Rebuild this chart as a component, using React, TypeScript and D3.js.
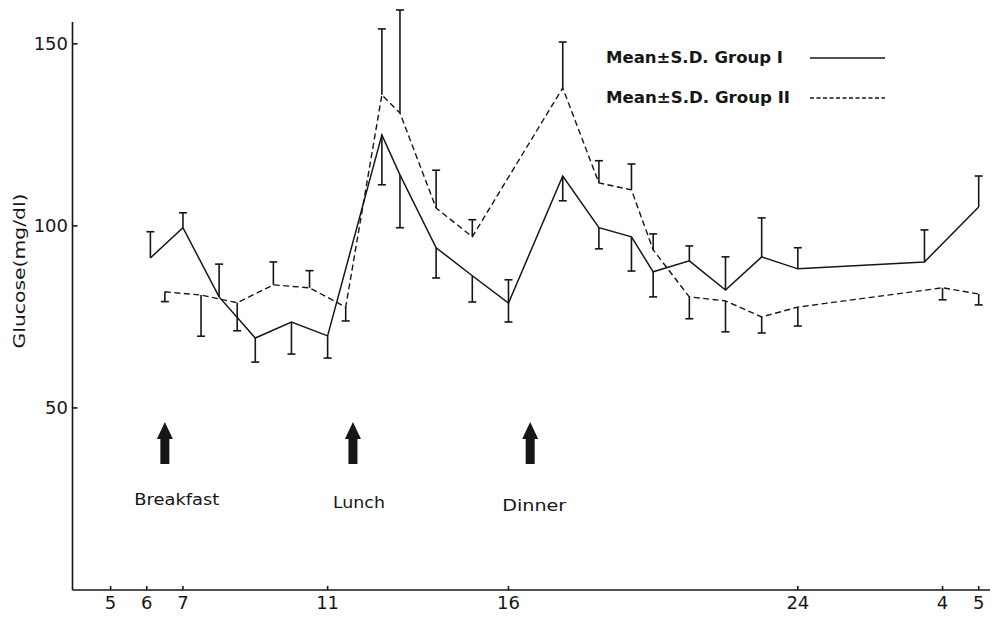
import React from "react";
import * as d3 from "d3";

// ---- Data ----
const groupIHours = [6.1, 7, 8, 9, 10, 11, 12.5, 13, 14, 15, 16, 17.5, 18.5, 19.4, 20, 21, 22, 23, 24, 27.5, 29];
const groupIMean = [91.2, 99.5, 80.5, 69.2, 73.6, 69.8, 125, 114, 94, 86.3, 78.8, 113.7, 99.5, 97, 87.4, 90.4, 82.4, 91.5, 88.2, 90.1, 105.2];
const groupIErrUp = [7.2, 4.1, 9.0, 0, 0, 0, 0, 0, 0, 0, 6.4, 0, 0, 0, 0, 4.1, 9.1, 10.7, 5.8, 8.8, 8.5];
const groupIErrDown = [0, 0, 0, 6.6, 8.8, 6.1, 13.7, 14.5, 8.3, 7.2, 5.2, 6.8, 5.8, 9.4, 6.9, 0, 0, 0, 0, 0, 0];

const groupIIHours = [6.5, 7.5, 8.5, 9.5, 10.5, 11.5, 12.5, 13, 14, 15, 17.5, 18.5, 19.4, 20, 21, 22, 23, 24, 28, 29];
const groupIIMean = [81.9, 81.0, 78.9, 83.8, 83.0, 77.7, 136, 131, 104.9, 97, 137.9, 111.8, 109.9, 93.4, 80.5, 79.4, 75, 77.7, 83, 81.3];
const groupIIErrUp = [0, 0, 0, 6.3, 4.7, 0, 18.1, 28.3, 10.4, 4.7, 12.6, 6.1, 7.1, 4.4, 0, 0, 0, 0, 0, 0];
const groupIIErrDown = [2.7, 11.3, 7.7, 0, 0, 3.8, 0, 0, 0, 0, 0, 0, 0, 0, 6, 8.5, 4.4, 5.2, 3.3, 3.0];

const xTickHours = [5, 6, 7, 11, 16, 24, 28, 29];
const xTickLabels = ["5", "6", "7", "11", "16", "24", "4", "5"];
const yTickValues = [50, 100, 150];

const mealHours = [6.5, 11.7, 16.6];
const mealLabels = ["Breakfast", "Lunch", "Dinner"];

const legendLabels = ["Mean\u00b1S.D. Group I", "Mean\u00b1S.D. Group II"];

// ---- Chart ----
const W = 997;
const H = 623;
const INK = "#161616";
const FONT = "'DejaVu Sans', 'Liberation Sans', sans-serif";

const x = d3.scaleLinear().domain([5, 29]).range([110.6, 978.7]);
const y = d3.scaleLinear().domain([0, 156]).range([590, 22]);

type Pt = { h: number; m: number; up: number; dn: number };

function makePts(h: number[], m: number[], up: number[], dn: number[]): Pt[] {
  return h.map((hv, i) => ({ h: hv, m: m[i], up: up[i], dn: dn[i] }));
}

const g1 = makePts(groupIHours, groupIMean, groupIErrUp, groupIErrDown);
const g2 = makePts(groupIIHours, groupIIMean, groupIIErrUp, groupIIErrDown);

const line = d3
  .line<Pt>()
  .x((d) => x(d.h))
  .y((d) => y(d.m));

function ErrorBars({ pts }: { pts: Pt[] }) {
  const cap = 4;
  return (
    <g stroke={INK} strokeWidth={1.6} fill="none">
      {pts.map((d, i) => {
        const cx = x(d.h);
        const top = y(d.m + d.up);
        const bot = y(d.m - d.dn);
        if (d.up === 0 && d.dn === 0) return null;
        return (
          <g key={i}>
            <line x1={cx} x2={cx} y1={top} y2={bot} />
            {d.up > 0 && <line x1={cx - cap} x2={cx + cap} y1={top} y2={top} />}
            {d.dn > 0 && <line x1={cx - cap} x2={cx + cap} y1={bot} y2={bot} />}
          </g>
        );
      })}
    </g>
  );
}

function Arrow({ cx }: { cx: number }) {
  const top = 422;
  const headBase = 439;
  const bottom = 464;
  const hw = 8;
  const sw = 4.5;
  const d = `M${cx},${top} L${cx + hw},${headBase} L${cx + sw},${headBase} L${cx + sw},${bottom} L${cx - sw},${bottom} L${cx - sw},${headBase} L${cx - hw},${headBase} Z`;
  return <path d={d} fill={INK} />;
}

const mealLabelWidths = [85, 52, 64];
const mealLabelShift = [12, 6, 4];

export default function App() {
  const axisY = y(0);
  const axisX = 72.5;
  return (
    <div style={{ position: "absolute", left: 0, top: 0, width: W, height: H }}>
      <svg width={W} height={H} viewBox={`0 0 ${W} ${H}`} style={{ display: "block", background: "#fff" }}>
        <rect x={0} y={0} width={W} height={H} fill="#fff" />
        {/* axes */}
        <g stroke={INK} strokeWidth={1.6}>
          <line x1={axisX} x2={990} y1={axisY} y2={axisY} />
          <line x1={axisX} x2={axisX} y1={axisY} y2={y(156)} />
          {xTickHours.map((h, i) => (
            <line key={i} x1={x(h)} x2={x(h)} y1={axisY} y2={axisY - 4} />
          ))}
          {yTickValues.map((v, i) => (
            <line key={i} x1={axisX} x2={axisX + 5} y1={y(v)} y2={y(v)} />
          ))}
        </g>
        <g fontFamily={FONT} fontSize={18} fill={INK}>
          {xTickHours.map((h, i) => (
            <text key={i} x={x(h)} y={609} textAnchor="middle">
              {xTickLabels[i]}
            </text>
          ))}
          {yTickValues.map((v, i) => (
            <text key={i} x={68} y={y(v)} dy="0.36em" textAnchor="end">
              {v}
            </text>
          ))}
        </g>
        <text
          transform={`translate(25,271) rotate(-90)`}
          textAnchor="middle"
          fontFamily={FONT}
          fontSize={15}
          fill={INK}
          textLength={155}
          lengthAdjust="spacingAndGlyphs"
        >
          Glucose(mg/dl)
        </text>

        {/* series */}
        <path d={line(g2) || ""} fill="none" stroke={INK} strokeWidth={1.4} strokeDasharray="6,3.5" />
        <path d={line(g1) || ""} fill="none" stroke={INK} strokeWidth={1.5} />
        <ErrorBars pts={g2} />
        <ErrorBars pts={g1} />

        {/* meals */}
        {mealHours.map((h, i) => (
          <g key={i}>
            <Arrow cx={x(h)} />
            <text
              x={x(h) + mealLabelShift[i] - mealLabelWidths[i] / 2}
              y={505 + i * 3}
              fontFamily={FONT}
              fontSize={16}
              fill={INK}
              textLength={mealLabelWidths[i]}
              lengthAdjust="spacingAndGlyphs"
            >
              {mealLabels[i]}
            </text>
          </g>
        ))}

        {/* legend */}
        <g fontFamily={FONT} fontSize={16} fontWeight="bold" fill={INK}>
          <text x={606} y={63} textLength={177} lengthAdjust="spacingAndGlyphs">
            {legendLabels[0]}
          </text>
          <text x={606} y={103} textLength={184} lengthAdjust="spacingAndGlyphs">
            {legendLabels[1]}
          </text>
        </g>
        <line x1={810} x2={885} y1={58} y2={58} stroke={INK} strokeWidth={1.5} />
        <line x1={810} x2={885} y1={98} y2={98} stroke={INK} strokeWidth={1.3} strokeDasharray="4,2.5" />
      </svg>
    </div>
  );
}
